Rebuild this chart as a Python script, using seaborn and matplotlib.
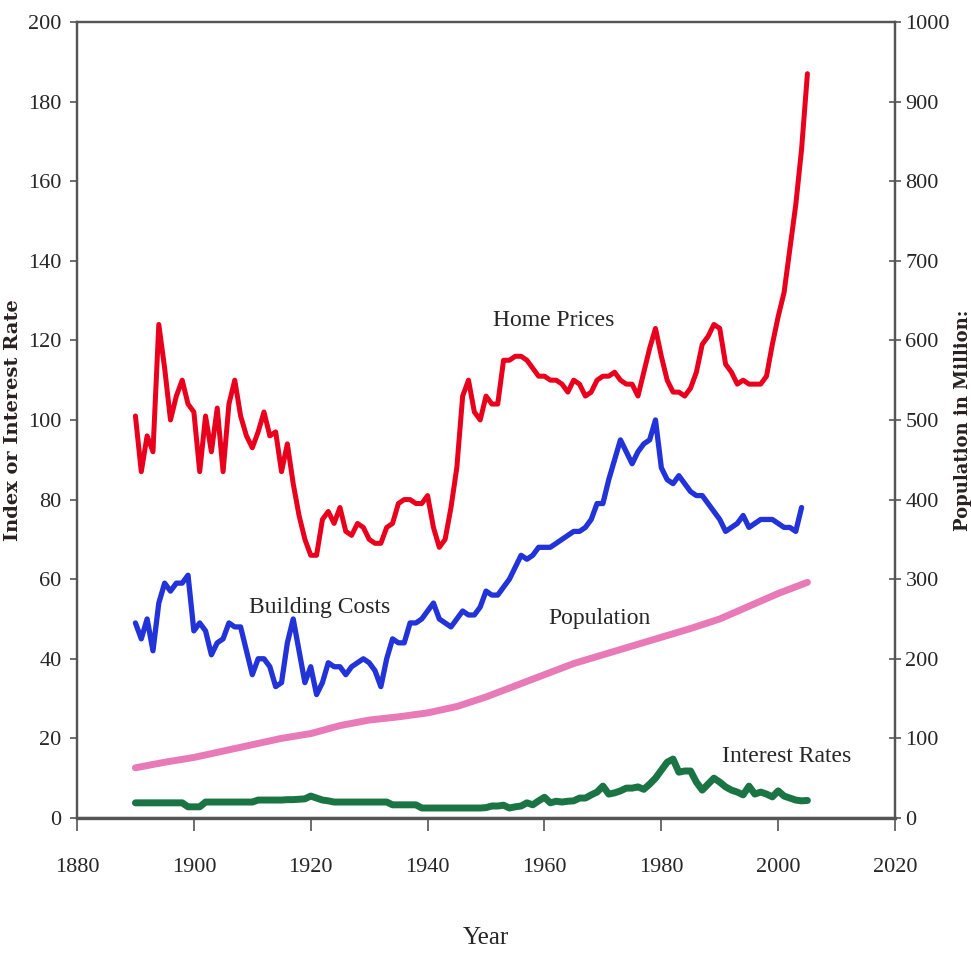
"""Home prices, building costs, population and interest rates 1890-2005"""
import numpy as np
import pandas as pd
import matplotlib
matplotlib.use("Agg")
import matplotlib.pyplot as plt
import seaborn as sns

# 数据
years = list(range(1890, 2006))
home_prices = [
    101, 87, 96, 92, 124, 113, 100, 106, 110, 104,
    102, 87, 101, 92, 103, 87, 104, 110, 101, 96,
    93, 97, 102, 96, 97, 87, 94, 84, 76, 70,
    66, 66, 75, 77, 74, 78, 72, 71, 74, 73,
    70, 69, 69, 73, 74, 79, 80, 80, 79, 79,
    81, 73, 68, 70, 78, 88, 106, 110, 102, 100,
    106, 104, 104, 115, 115, 116, 116, 115, 113, 111,
    111, 110, 110, 109, 107, 110, 109, 106, 107, 110,
    111, 111, 112, 110, 109, 109, 106, 112, 118, 123,
    116, 110, 107, 107, 106, 108, 112, 119, 121, 124,
    123, 114, 112, 109, 110, 109, 109, 109, 111, 119,
    126, 132, 143, 154, 168, 187,
]
cost_years = list(range(1890, 2005))
building_costs = [
    49, 45, 50, 42, 54, 59, 57, 59, 59, 61,
    47, 49, 47, 41, 44, 45, 49, 48, 48, 42,
    36, 40, 40, 38, 33, 34, 44, 50, 42, 34,
    38, 31, 34, 39, 38, 38, 36, 38, 39, 40,
    39, 37, 33, 40, 45, 44, 44, 49, 49, 50,
    52, 54, 50, 49, 48, 50, 52, 51, 51, 53,
    57, 56, 56, 58, 60, 63, 66, 65, 66, 68,
    68, 68, 69, 70, 71, 72, 72, 73, 75, 79,
    79, 85, 90, 95, 92, 89, 92, 94, 95, 100,
    88, 85, 84, 86, 84, 82, 81, 81, 79, 77,
    75, 72, 73, 74, 76, 73, 74, 75, 75, 75,
    74, 73, 73, 72, 78,
]
interest_rates = [
    3.8, 3.8, 3.8, 3.8, 3.8, 3.8, 3.8, 3.8, 3.8, 2.8,
    2.8, 2.8, 4.0, 4.0, 4.0, 4.0, 4.0, 4.0, 4.0, 4.0,
    4.0, 4.5, 4.5, 4.5, 4.5, 4.5, 4.6, 4.6, 4.7, 4.8,
    5.5, 5.0, 4.5, 4.3, 4.0, 4.0, 4.0, 4.0, 4.0, 4.0,
    4.0, 4.0, 4.0, 4.0, 3.3, 3.3, 3.3, 3.3, 3.3, 2.5,
    2.5, 2.5, 2.5, 2.5, 2.5, 2.5, 2.5, 2.5, 2.5, 2.5,
    2.6, 3.0, 3.0, 3.2, 2.5, 2.8, 3.0, 3.8, 3.3, 4.3,
    5.2, 3.8, 4.2, 4.0, 4.2, 4.3, 5.0, 5.0, 5.8, 6.5,
    8.0, 6.0, 6.3, 6.8, 7.5, 7.5, 7.8, 7.2, 8.5, 10.0,
    12.0, 14.0, 14.8, 11.5, 11.8, 11.8, 9.0, 7.0, 8.5, 10.0,
    9.0, 7.8, 7.0, 6.5, 5.8, 8.0, 6.0, 6.5, 6.0, 5.3,
    6.8, 5.5, 5.0, 4.5, 4.3, 4.4,
]
pop_years = [1890, 1895, 1900, 1905, 1910, 1915, 1920, 1925, 1930, 1935, 1940, 1945,
             1950, 1955, 1960, 1965, 1970, 1975, 1980, 1985, 1990, 1995, 2000, 2005]
population = [63, 70, 76, 84, 92, 100, 106, 116, 123, 127, 132, 140,
              152, 166, 180, 194, 205, 216, 227, 238, 250, 266, 282, 296]

sns.set_style("ticks")
plt.rcParams['font.family'] = ['Liberation Serif', 'DejaVu Serif']

fig = plt.figure(figsize=(9.71, 9.55), dpi=100)
ax = fig.add_axes([0.0793, 0.1435, 0.8425, 0.8335])
ax2 = ax.twinx()

sns.lineplot(x=years, y=home_prices, ax=ax, color="#e8001c", lw=3.6)
sns.lineplot(x=cost_years, y=building_costs, ax=ax, color="#2233d8", lw=3.8)
sns.lineplot(x=years, y=interest_rates, ax=ax, color="#1b7443", lw=5)
sns.lineplot(x=pop_years, y=population, ax=ax2, color="#e87ab8", lw=5)

ax.set_xlim(1880, 2020)
ax.set_ylim(0, 200)
ax2.set_ylim(0, 1000)
ax.set_xticks(np.arange(1880, 2021, 20))
ax.set_yticks(np.arange(0, 201, 20))
ax2.set_yticks(np.arange(0, 1001, 100))

for a in (ax, ax2):
    for s in a.spines.values():
        s.set_color("#555555")
        s.set_linewidth(1.6)
ax.spines['bottom'].set_linewidth(2.4)

ax.tick_params(axis='y', direction='out', length=5, width=1.2, color="#555555",
               labelsize=16, pad=6)
ax.tick_params(axis='x', direction='out', length=9, width=1.2, color="#555555",
               labelsize=16, pad=20)
ax2.tick_params(axis='y', direction='inout', length=9, width=1.2, color="#555555",
                labelsize=16, pad=3)

ax.set_xlabel("Year", fontsize=18, labelpad=36)
ax.set_ylabel("Index or Interest Rate", fontsize=14, fontweight='bold',
              family=['DejaVu Serif'], color="#2a2020")
ax2.set_ylabel("Population in Million:", fontsize=13, fontweight='bold',
               family=['DejaVu Serif'], color="#2a2020")
ax.yaxis.set_label_coords(-0.067, 0.5)
ax2.yaxis.set_label_coords(1.072, 0.5)

ax.text(1961.5, 125, "Home Prices", fontsize=17, ha='center', va='center')
ax.text(1921.5, 53, "Building Costs", fontsize=17, ha='center', va='center')
ax.text(1969.5, 50, "Population", fontsize=17, ha='center', va='center')
ax.text(2001.5, 15.5, "Interest Rates", fontsize=17, ha='center', va='center')

fig.savefig("out.png", dpi=100)
